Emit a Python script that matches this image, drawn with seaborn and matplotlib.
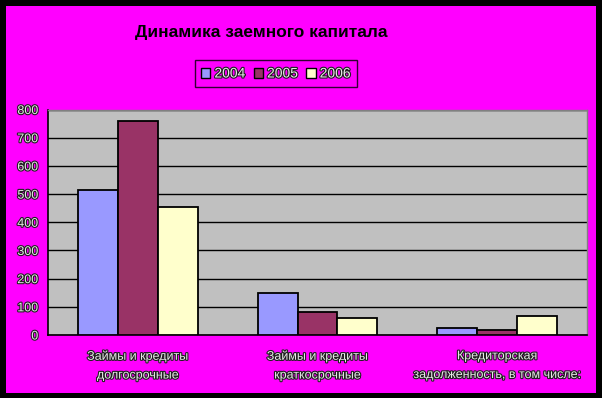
import matplotlib
matplotlib.use("Agg")
import matplotlib.pyplot as plt
import matplotlib.patches as mpatches
import matplotlib.patheffects as pe
import seaborn as sns
import pandas as pd
import numpy as np

categories = ["Займы и кредиты\nдолгосрочные",
              "Займы и кредиты\nкраткосрочные",
              "Кредиторская\nзадолженность, в том числе:"]
years = ["2004", "2005", "2006"]
values_2004 = [514, 148, 24]
values_2005 = [758, 81, 19]
values_2006 = [454, 62, 66]
yticks = [0, 100, 200, 300, 400, 500, 600, 700, 800]
colors = ["#9999FF", "#993366", "#FFFFCC"]
title = "Динамика заемного капитала"

rows = []
for yr, vals in zip(years, [values_2004, values_2005, values_2006]):
    for c, v in zip(categories, vals):
        rows.append({"cat": c, "year": yr, "value": v})
df = pd.DataFrame(rows)

sns.set_style("white")
plt.rcParams['font.family'] = ['Liberation Sans', 'DejaVu Sans']

fig = plt.figure(figsize=(6.02, 3.98), dpi=100, facecolor="black")
bg = mpatches.Rectangle((6/602, 1-393/398), 590/602, 387/398,
                        transform=fig.transFigure, facecolor="#FF00FF",
                        edgecolor="none", zorder=-10)
fig.patches.append(bg)
ax = fig.add_axes([48/602, 1-335/398, 539/602, 225.5/398])
ax.set_zorder(2)
ax.set_facecolor("#C0C0C0")

sns.barplot(data=df, x="cat", y="value", hue="year", palette=colors,
            width=0.667, gap=0, edgecolor="black", linewidth=1.3,
            saturation=1, ax=ax, legend=False, zorder=3)

ax.set_ylim(0, 800)
ax.set_xlim(-0.5, 2.5)
ax.set_yticks(yticks)
ax.yaxis.grid(True, color="black", linewidth=1.0, zorder=1)
ax.set_axisbelow(True)
ax.set_xlabel("")
ax.set_ylabel("")

effects = [pe.withStroke(linewidth=1.6, foreground="#202020")]
ax.set_yticklabels([str(t) for t in yticks], fontsize=9, color="#E8E8E8")
for lab in ax.get_yticklabels():
    lab.set_path_effects(effects)
ax.tick_params(axis="y", direction="out", length=4, width=1, color="black", pad=3)
ax.set_xticks(range(len(categories)))
ax.set_xticklabels(categories, fontsize=9, color="#E8E8E8", linespacing=1.75)
for lab in ax.get_xticklabels():
    lab.set_path_effects(effects)
ax.tick_params(axis="x", length=0, pad=11)
ax.set_xticks([-0.5, 0.5, 1.5, 2.5], minor=True)
ax.tick_params(axis="x", which="minor", direction="out", length=4, width=1, color="black")

for s in ["left", "bottom"]:
    ax.spines[s].set_color("black")
    ax.spines[s].set_linewidth(1.2)
for s in ["top", "right"]:
    ax.spines[s].set_color("#808080")
    ax.spines[s].set_linewidth(1.0)

fig.text(261/602, 1-33/398, title, ha="center", va="center", fontsize=12.5,
         fontweight="bold", color="black")

handles = [mpatches.Patch(facecolor=c, edgecolor="black", linewidth=1) for c in colors]
leg = fig.legend(handles, years, loc="center", bbox_to_anchor=(276/602, 1-73.5/398),
                 ncol=3, frameon=True, fontsize=10, handlelength=0.65, handleheight=0.7,
                 handletextpad=0.3, columnspacing=0.6, borderpad=0.45, fancybox=False)
leg.get_frame().set_facecolor("#FF00FF")
leg.get_frame().set_edgecolor("black")
leg.get_frame().set_linewidth(1.0)
for t in leg.get_texts():
    t.set_color("#E8E8E8")
    t.set_path_effects(effects)

fig.savefig("out.png", dpi=100, facecolor="black")
